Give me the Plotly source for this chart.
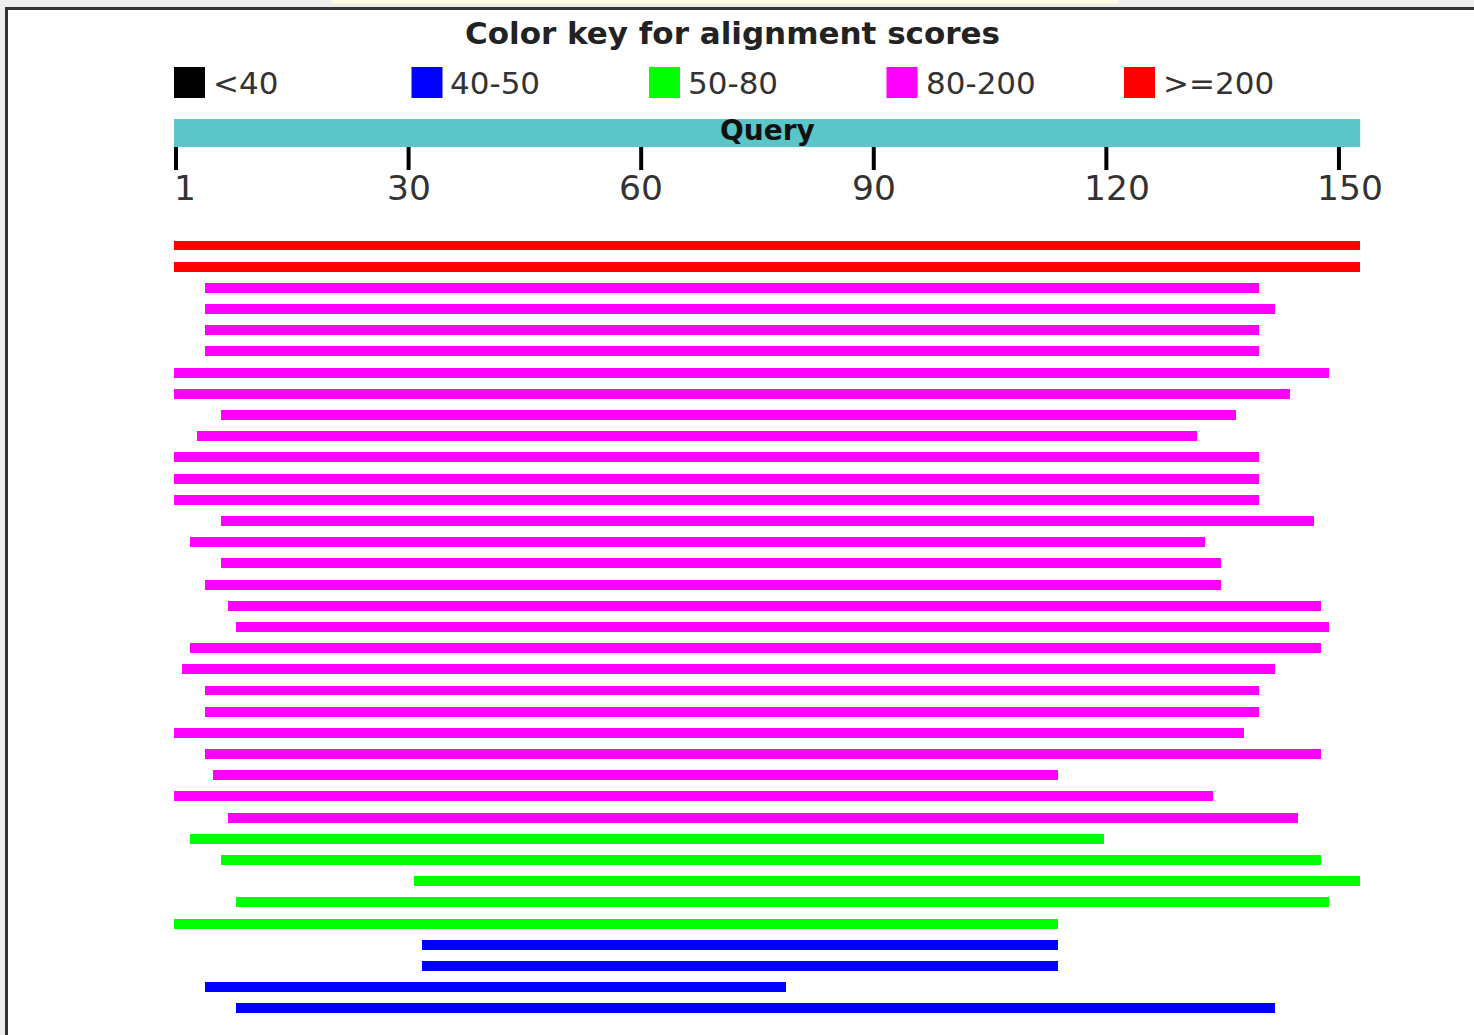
import plotly.graph_objects as go

# ---------------- data ----------------
query_length = 153
tick_labels = [1, 30, 60, 90, 120, 150]

legend_labels = ["<40", "40-50", "50-80", "80-200", ">=200"]
legend_colors = ["#000000", "#0000FF", "#00FF00", "#FF00FF", "#FF0000"]

hit_starts = [1, 1, 5, 5, 5, 5, 1, 1, 7, 4, 1, 1, 1, 7, 3, 7, 5, 8, 9, 3, 2, 5, 5, 1,
              5, 6, 1, 8, 3, 7, 32, 9, 1, 33, 33, 5, 9]
hit_ends = [153, 153, 140, 142, 140, 140, 149, 144, 137, 132, 140, 140, 140, 147, 133,
            135, 135, 148, 149, 148, 142, 140, 140, 138, 148, 114, 134, 145, 120, 148,
            153, 149, 114, 114, 114, 79, 142]
hit_score_class = [">=200"] * 2 + ["80-200"] * 26 + ["50-80"] * 5 + ["40-50"] * 4

# ---------------- geometry (pixel calibration) ----------------
W, H = 1474, 1035
PX_PER_RES = 7.753
BAR_LEFT_PX = 174
ROW0_PX = 245.5
ROW_STEP = 21.19

xr0 = -BAR_LEFT_PX / PX_PER_RES
xr1 = (W - BAR_LEFT_PX) / PX_PER_RES
yr_top = -ROW0_PX / ROW_STEP
yr_bot = (H - ROW0_PX) / ROW_STEP


def px(x):
    return x / W


def py(y):
    return 1 - y / H


color_of = dict(zip(legend_labels, legend_colors))
FONT = "Verdana, DejaVu Sans, sans-serif"

fig = go.Figure()

# hits, one bar trace per score class
n = len(hit_starts)
rows = list(range(n))
for lab in legend_labels:
    idx = [i for i in rows if hit_score_class[i] == lab]
    if not idx:
        continue
    fig.add_trace(go.Bar(
        y=[i for i in idx],
        x=[hit_ends[i] - hit_starts[i] + 1 for i in idx],
        base=[hit_starts[i] - 1 for i in idx],
        orientation="h",
        width=0.47,
        marker=dict(color=color_of[lab], line=dict(width=0)),
        showlegend=False,
        hovertemplate="%{base}-%{x}<extra></extra>",
    ))

shapes = []
annotations = []

# frame / page background
shapes.append(dict(type="rect", xref="paper", yref="paper", x0=px(7), x1=1.0,
                   y0=0, y1=py(9), fillcolor="white", line=dict(width=0), layer="below"))
shapes.append(dict(type="rect", xref="paper", yref="paper", x0=px(332), x1=px(1118),
                   y0=py(3.5), y1=1, fillcolor="#FFFFDD", line=dict(width=0), layer="below"))
shapes.append(dict(type="line", xref="paper", yref="paper", x0=px(5), x1=1.0,
                   y0=py(8.5), y1=py(8.5), line=dict(color="#333333", width=3)))
shapes.append(dict(type="line", xref="paper", yref="paper", x0=px(6.5), x1=px(6.5),
                   y0=0, y1=py(7), line=dict(color="#333333", width=3)))

# title
annotations.append(dict(text="<b>Color key for alignment scores</b>", xref="paper", yref="paper",
                        x=px(732), y=py(33), xanchor="center", yanchor="middle",
                        showarrow=False, font=dict(family=FONT, size=31, color="#222222")))

# color key
for k, (lab, col) in enumerate(zip(legend_labels, legend_colors)):
    x0 = 174 + k * 237.5
    shapes.append(dict(type="rect", xref="paper", yref="paper", x0=px(x0), x1=px(x0 + 31),
                       y0=py(98), y1=py(67), fillcolor=col, line=dict(width=0)))
    annotations.append(dict(text=lab, xref="paper", yref="paper", x=px(x0 + 37), y=py(83),
                            xanchor="left", yanchor="middle", showarrow=False,
                            font=dict(family=FONT, size=31, color="#333333")))

# query bar
shapes.append(dict(type="rect", xref="x", yref="paper", x0=0, x1=query_length,
                   y0=py(147), y1=py(119), fillcolor="#5BC6C8", line=dict(width=0)))
annotations.append(dict(text="<b>Query</b>", xref="x", yref="paper", x=query_length / 2,
                        y=py(131), xanchor="center", yanchor="middle", showarrow=False,
                        font=dict(family=FONT, size=28, color="#111111")))

# ruler ticks and labels (tick line's left edge at residue boundary; "1" at the start)
TICK_W = 4
for t in tick_labels:
    tu = (0 if t == 1 else t) + (TICK_W / 2) / PX_PER_RES
    shapes.append(dict(type="line", xref="x", yref="paper", x0=tu, x1=tu,
                       y0=py(170), y1=py(147), line=dict(color="black", width=TICK_W)))
    tick_px = BAR_LEFT_PX + tu * PX_PER_RES
    left_px = max(tick_px - 24, 172)
    annotations.append(dict(text=str(t), xref="paper", yref="paper", x=px(left_px), y=py(188),
                            xanchor="left", yanchor="middle", showarrow=False,
                            font=dict(family=FONT, size=34.5, color="#333333")))

fig.update_layout(
    width=W, height=H,
    margin=dict(l=0, r=0, t=0, b=0),
    paper_bgcolor="#EEEEEE",
    plot_bgcolor="rgba(0,0,0,0)",
    barmode="overlay",
    bargap=0,
    xaxis=dict(range=[xr0, xr1], visible=False, fixedrange=True),
    yaxis=dict(range=[yr_bot, yr_top], visible=False, fixedrange=True),
    shapes=shapes,
    annotations=annotations,
    showlegend=False,
)

fig.write_html(
    "out.html",
    config={"displayModeBar": False},
    post_script="document.body.style.margin='0';document.body.style.overflow='hidden';",
)
